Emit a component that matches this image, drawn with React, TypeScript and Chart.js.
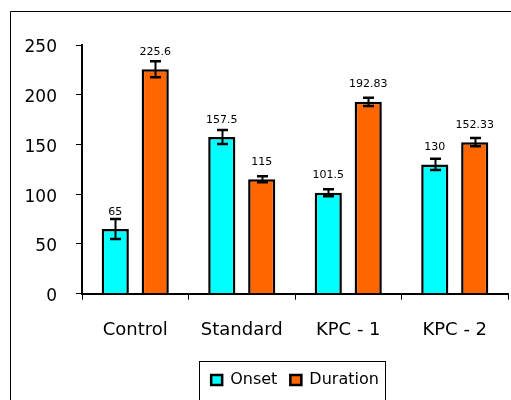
import React, { useEffect, useRef } from "react";
import { Chart, registerables } from "chart.js";

Chart.register(...registerables);

const categories = ["Control", "Standard", "KPC - 1", "KPC - 2"];
const seriesNames = ["Onset", "Duration"];
const onset = [65, 157.5, 101.5, 130];
const duration = [225.6, 115, 192.83, 152.33];
const onsetErr = [10, 7, 3.5, 5.7];
const durationErr = [8, 3, 4.2, 4.2];
const onsetLabels = ["65", "157.5", "101.5", "130"];
const durationLabels = ["225.6", "115", "192.83", "152.33"];
const yMin = 0;
const yMax = 250;
const yStep = 50;

const errorsList = [onsetErr, durationErr];
const labelsList = [onsetLabels, durationLabels];

const FONT = "'DejaVu Sans', sans-serif";

const extrasPlugin = {
  id: "extras",
  beforeDraw(chart: any) {
    const ctx = chart.ctx;
    ctx.save();
    ctx.fillStyle = "#fff";
    ctx.fillRect(0, 0, chart.width, chart.height);
    ctx.strokeStyle = "#000";
    ctx.lineWidth = 1;
    ctx.beginPath();
    ctx.moveTo(10.5, chart.height + 2);
    ctx.lineTo(10.5, 11.5);
    ctx.lineTo(chart.width + 2, 11.5);
    ctx.stroke();
    ctx.restore();
  },
  afterDatasetsDraw(chart: any) {
    const ctx = chart.ctx;
    const yScale = chart.scales.y;
    ctx.save();
    chart.data.datasets.forEach((ds: any, di: number) => {
      const meta = chart.getDatasetMeta(di);
      const errs = errorsList[di];
      const labels = labelsList[di];
      meta.data.forEach((bar: any, i: number) => {
        const v = ds.data[i];
        const e = errs[i];
        const yt = yScale.getPixelForValue(v + e);
        const yb = yScale.getPixelForValue(v - e);
        const x = Math.round(bar.x) + 0.5;
        ctx.strokeStyle = "#000";
        ctx.lineWidth = 2;
        ctx.beginPath();
        ctx.moveTo(x, yt);
        ctx.lineTo(x, yb);
        ctx.stroke();
        ctx.lineWidth = 2.5;
        ctx.beginPath();
        ctx.moveTo(x - 5.5, yt);
        ctx.lineTo(x + 5.5, yt);
        ctx.moveTo(x - 5.5, yb);
        ctx.lineTo(x + 5.5, yb);
        ctx.stroke();
        ctx.fillStyle = "#000";
        ctx.font = "11px " + FONT;
        ctx.textAlign = "center";
        ctx.textBaseline = "alphabetic";
        ctx.fillText(labels[i], bar.x, bar.y - 14.5);
      });
    });
    ctx.restore();
  },
  afterDraw(chart: any) {
    const lg = chart.legend;
    if (!lg || !lg.legendHitBoxes || !lg.legendHitBoxes.length) return;
    const hbs = lg.legendHitBoxes;
    const first = hbs[0];
    const last = hbs[hbs.length - 1];
    const left = Math.round(first.left - 12.5) + 0.5;
    const right = Math.round(last.left + last.width + 6) + 0.5;
    const top = Math.round(first.top - 11) + 0.5;
    const ctx = chart.ctx;
    ctx.save();
    ctx.strokeStyle = "#000";
    ctx.lineWidth = 1;
    ctx.strokeRect(left, top, right - left, chart.height + 10 - top);
    ctx.restore();
  },
};

export default function App() {
  const ref = useRef<HTMLCanvasElement | null>(null);

  useEffect(() => {
    document.body.style.margin = "0";
    const canvas = ref.current;
    if (!canvas) return;
    const chart = new Chart(canvas, {
      type: "bar",
      data: {
        labels: categories,
        datasets: [
          {
            label: seriesNames[0],
            data: onset,
            backgroundColor: "#00FFFF",
            borderColor: "#000",
            borderWidth: 2.5,
            categoryPercentage: 0.75,
            barPercentage: 0.68,
          },
          {
            label: seriesNames[1],
            data: duration,
            backgroundColor: "#FF6600",
            borderColor: "#000",
            borderWidth: 2.5,
            categoryPercentage: 0.75,
            barPercentage: 0.68,
          },
        ],
      },
      options: {
        responsive: false,
        animation: false,
        devicePixelRatio: 1,
        layout: { padding: { top: 45, right: 3, left: 0, bottom: 2 } },
        plugins: {
          tooltip: { enabled: false },
          legend: {
            position: "bottom",
            fullSize: false,
            labels: {
              boxWidth: 11,
              boxHeight: 10,
              padding: 13,
              color: "#000",
              font: { family: FONT, size: 16 },
            },
          },
        },
        scales: {
          x: {
            grid: {
              drawOnChartArea: false,
              drawTicks: true,
              tickLength: 6,
              color: "#000",
              offset: true,
            },
            border: { display: true, color: "#000", width: 2 },
            ticks: {
              color: "#000",
              font: { family: FONT, size: 18 },
              padding: 20,
              maxRotation: 0,
            },
            afterFit(scale: any) {
              scale.height = 65.3;
            },
          },
          y: {
            min: yMin,
            max: yMax,
            grid: {
              drawOnChartArea: false,
              drawTicks: true,
              tickLength: 6,
              color: "#000",
            },
            border: { display: true, color: "#000", width: 2 },
            ticks: {
              stepSize: yStep,
              color: "#000",
              font: { family: FONT, size: 17 },
              padding: 19,
              labelOffset: 3,
            },
            afterFit(scale: any) {
              scale.width = 82;
            },
          },
        },
      },
      plugins: [extrasPlugin],
    });
    return () => chart.destroy();
  }, []);

  return (
    <div style={{ width: 511, height: 400 }}>
      <canvas ref={ref} width={511} height={400} style={{ display: "block" }} />
    </div>
  );
}
